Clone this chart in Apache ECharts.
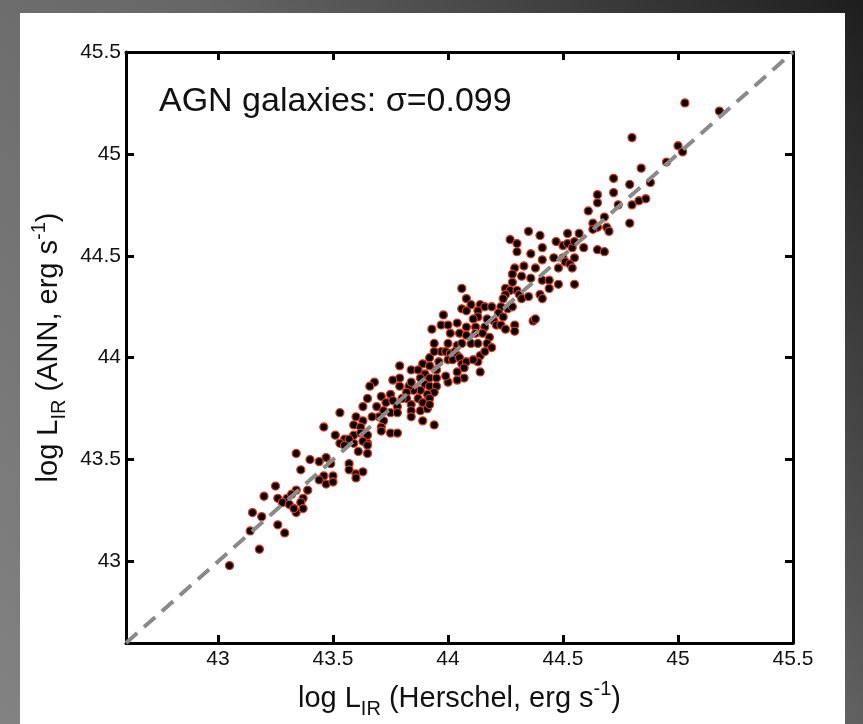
<!DOCTYPE html>
<html lang="en">

<head>
    <meta charset="UTF-8">
    <title>AGN galaxies</title>
    <script src="https://cdn.jsdelivr.net/npm/echarts@6/dist/echarts.min.js"></script>
    <style>
        html, body { margin: 0; padding: 0; }
    </style>
</head>

<body>
    <div id="ech" style="width:863px;height:724px;"></div>
    <script>
        // log L_IR (Herschel) vs log L_IR (ANN)
        let herschel = [
            45.03, 45.18, 44.80, 45.00, 45.02, 44.95, 44.84, 44.72, 44.79, 44.88, 44.72, 44.65, 44.65, 44.74, 44.80, 44.83,
            44.86, 44.61, 44.68, 44.63, 44.79, 44.69, 44.70, 44.65, 44.63, 44.57, 44.52,
            44.35, 44.27, 44.40, 44.30, 44.47, 44.50, 44.52, 44.54, 44.41, 44.55, 44.59, 44.65, 44.68, 44.30, 44.36, 44.41,
            44.46, 44.50, 44.51, 44.53, 44.55, 44.54, 44.48, 44.29, 44.33, 44.38, 44.28, 44.32, 44.36, 44.41, 44.44, 44.48,
            44.55, 44.28, 44.25, 44.27, 44.25, 44.30, 44.31, 44.32, 44.35, 44.40, 44.41, 44.44, 44.06, 44.08, 44.06, 44.10,
            44.14, 44.16, 44.19, 44.08, 44.13, 44.24, 44.23, 44.26, 44.28, 44.22, 44.24, 44.20, 44.17, 44.13, 43.98, 43.93,
            43.97, 44.00, 44.04, 44.11, 44.08, 44.12, 44.16, 44.21, 44.23, 44.25, 44.29, 44.29, 44.37, 44.38, 44.01, 44.05,
            44.08, 44.12, 44.15, 44.18, 44.00, 44.04, 44.06, 44.10, 44.13, 44.17, 44.19, 44.14, 44.16, 44.13, 43.94, 43.97,
            43.92, 43.94, 43.96, 43.99, 44.01, 44.03, 44.04, 44.00, 44.02, 44.05, 44.06, 44.08, 44.07, 44.11, 44.07, 44.04,
            44.00, 43.99, 44.04, 44.14, 43.79, 43.84, 43.89, 43.92, 43.95, 43.87, 43.90, 43.92, 43.95, 43.88, 43.90, 43.92,
            43.95, 43.94, 43.91, 43.88, 43.85, 43.83, 43.84, 43.79, 43.76, 43.79, 43.82, 43.68, 43.66, 43.82, 43.84, 43.87,
            43.89, 43.92, 43.88, 43.91, 43.92, 43.84, 43.84, 43.89, 43.94, 43.78, 43.80, 43.71, 43.73, 43.75, 43.76, 43.69,
            43.72, 43.70, 43.72, 43.63, 43.65, 43.67, 43.75, 43.78, 43.60, 43.63, 43.59, 43.62, 43.71, 43.71, 43.75, 43.78,
            43.53, 43.64, 43.65, 43.51, 43.55, 43.59,
            43.46, 43.59, 43.62, 43.65, 43.63, 43.65, 43.61, 43.65, 43.53, 43.57, 43.55, 43.34, 43.36, 43.40, 43.44, 43.47,
            43.49, 43.46, 43.50, 43.44, 43.47, 43.50, 43.57, 43.57, 43.60, 43.63, 43.60, 43.25, 43.20, 43.26, 43.30, 43.28,
            43.31, 43.34, 43.33, 43.37, 43.39, 43.34, 43.32, 43.36, 43.37, 43.15, 43.19, 43.26, 43.14, 43.29, 43.18, 43.05
        ];
        let ann = [
            45.25, 45.21, 45.08, 45.04, 45.01, 44.96, 44.93, 44.88, 44.85, 44.86, 44.81, 44.80, 44.76, 44.75, 44.75, 44.77,
            44.78, 44.72, 44.69, 44.66, 44.66, 44.64, 44.62, 44.64, 44.63, 44.61, 44.61,
            44.62, 44.58, 44.60, 44.56, 44.57, 44.55, 44.56, 44.54, 44.54, 44.57, 44.54, 44.53, 44.52, 44.52, 44.51, 44.48,
            44.49, 44.49, 44.47, 44.46, 44.49, 44.44, 44.44, 44.44, 44.45, 44.44, 44.41, 44.40, 44.39, 44.38, 44.38, 44.36,
            44.36, 44.37, 44.34, 44.33, 44.31, 44.33, 44.31, 44.29, 44.30, 44.31, 44.29, 44.34, 44.34, 44.29, 44.24, 44.26,
            44.26, 44.25, 44.25, 44.23, 44.23, 44.29, 44.25, 44.24, 44.25, 44.22, 44.20, 44.18, 44.19, 44.20, 44.21, 44.14,
            44.16, 44.16, 44.17, 44.19, 44.15, 44.15, 44.15, 44.16, 44.16, 44.14, 44.16, 44.13, 44.18, 44.19, 44.12, 44.12,
            44.11, 44.12, 44.12, 44.10, 44.07, 44.06, 44.07, 44.07, 44.07, 44.07, 44.05, 44.01, 44.03, 43.98, 44.07, 44.03,
            44.00, 44.03, 43.98, 44.03, 44.02, 44.03, 44.01, 43.99, 43.99, 44.00, 43.97, 43.98, 43.95, 43.99, 43.90, 43.89,
            43.88, 43.91, 43.93, 43.93, 43.96, 43.94, 43.97, 43.96, 43.94, 43.94, 43.92, 43.90, 43.90, 43.90, 43.87, 43.86,
            43.86, 43.83, 43.82, 43.84, 43.84, 43.86, 43.88, 43.90, 43.89, 43.86, 43.83, 43.88, 43.86, 43.80, 43.77, 43.80,
            43.78, 43.80, 43.74, 43.75, 43.77, 43.74, 43.71, 43.69, 43.67, 43.76, 43.80, 43.81, 43.78, 43.82, 43.79, 43.76,
            43.74, 43.71, 43.69, 43.76, 43.80, 43.71, 43.73, 43.73, 43.71, 43.69, 43.67, 43.66, 43.66, 43.64, 43.63, 43.63,
            43.73, 43.63, 43.58, 43.62, 43.60, 43.58,
            43.66, 43.62, 43.63, 43.62, 43.59, 43.57, 43.54, 43.53, 43.58, 43.60, 43.57, 43.53, 43.45, 43.50, 43.49, 43.51,
            43.48, 43.42, 43.42, 43.40, 43.38, 43.39, 43.48, 43.45, 43.43, 43.44, 43.41, 43.37, 43.32, 43.31, 43.31, 43.29,
            43.28, 43.24, 43.26, 43.31, 43.35, 43.35, 43.33, 43.29, 43.26, 43.24, 43.22, 43.18, 43.15, 43.14, 43.06, 42.98
        ];
        let oneToOne = [42.6, 45.5];
        let ticks = [43, 43.5, 44, 44.5, 45, 45.5];

        let points = herschel.map(function (x, i) { return [x, ann[i]]; });
        let font = 'Liberation Sans, Arial, sans-serif';

        let rich = {
            a: { fontSize: 29, fontFamily: font, color: '#111', lineHeight: 40 },
            b: { fontSize: 20, fontFamily: font, color: '#111', lineHeight: 14, verticalAlign: 'bottom' },
            c: { fontSize: 20, fontFamily: font, color: '#111', lineHeight: 14, verticalAlign: 'top' }
        };

        function frameAxis(pos, labels) {
            return {
                type: 'value',
                position: pos,
                min: 42.6,
                max: 45.5,
                axisLine: { onZero: false, lineStyle: { color: '#000', width: 3 } },
                axisTick: { show: true, inside: true, length: 8, customValues: ticks, lineStyle: { color: '#000', width: 3 } },
                axisLabel: {
                    show: labels, customValues: ticks, fontSize: 21, fontFamily: font, color: '#111',
                    margin: (pos == 'bottom') ? 6 : 5
                },
                splitLine: { show: false }
            };
        }

        let xBottom = frameAxis('bottom', true);
        xBottom.name = '{a|log L}{b|IR}{a| (Herschel, erg s}{c|-1}{a|)}';
        xBottom.nameLocation = 'middle';
        xBottom.nameGap = 36;
        xBottom.nameTextStyle = { rich: rich };

        let yLeft = frameAxis('left', true);
        yLeft.name = '{a|log L}{b|IR}{a| (ANN, erg s}{c|-1}{a|)}';
        yLeft.nameLocation = 'middle';
        yLeft.nameGap = 56;
        yLeft.nameRotate = 90;
        yLeft.nameTextStyle = { rich: rich };

        let ech = document.getElementById('ech');
        let my_echart = echarts.init(ech);
        let option = {
            animation: false,
            backgroundColor: new echarts.graphic.LinearGradient(0, 1, 1, 0, [
                { offset: 0, color: '#828282' },
                { offset: 0.55, color: '#666' },
                { offset: 1, color: '#1e1e1e' }
            ]),
            graphic: [{
                type: 'rect', z: -10, silent: true,
                shape: { x: 20, y: 13, width: 825, height: 720 },
                style: { fill: '#fff' }
            }, {
                type: 'text', z: 10,
                x: 159, y: 102,
                style: { text: 'AGN galaxies: \u03c3=0.099', fill: '#111', font: '34px Liberation Sans, Arial, sans-serif', verticalAlign: 'middle' }
            }],
            grid: { left: 126, right: 70, top: 52, bottom: 76 },
            xAxis: [xBottom, frameAxis('top', false)],
            yAxis: [yLeft, frameAxis('right', false)],
            series: [{
                type: 'scatter',
                data: points,
                symbolSize: 8,
                itemStyle: { color: '#000', borderColor: '#e2351a', borderWidth: 1.3, opacity: 1 }
            }, {
                type: 'line',
                z: 5,
                data: oneToOne.map(function (v) { return [v, v]; }),
                symbol: 'none',
                lineStyle: { color: '#8a8a8a', width: 4, type: [15, 9] }
            }]
        };

        my_echart.setOption(option);
    </script>
</body>

</html>
